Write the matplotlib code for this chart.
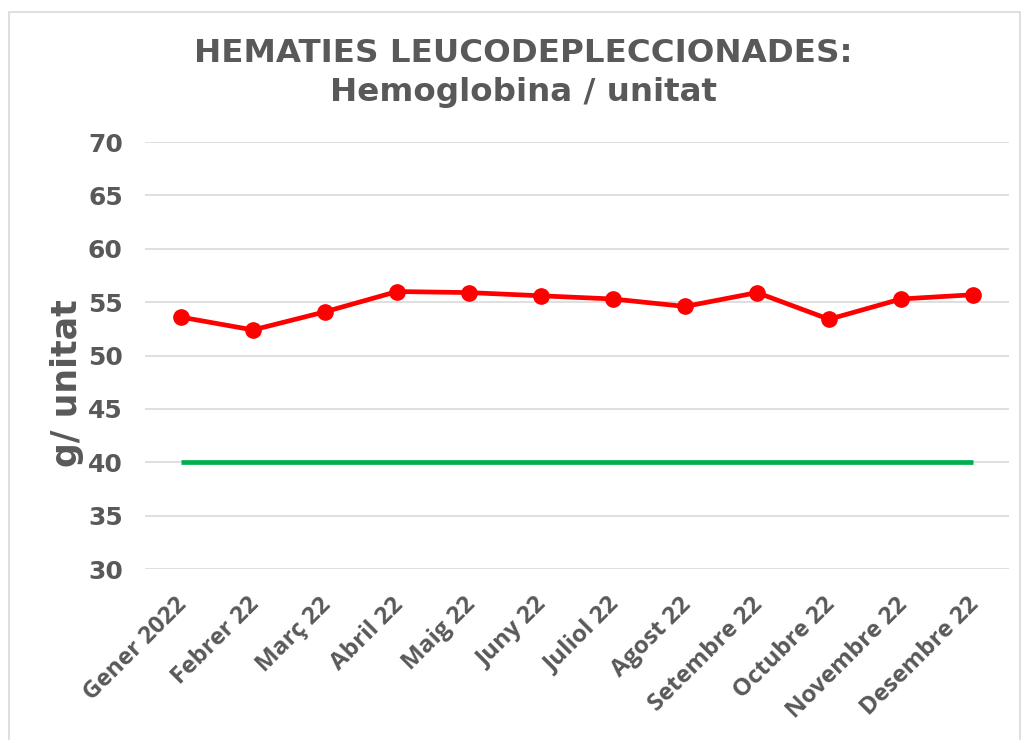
import matplotlib
matplotlib.use('Agg')
import matplotlib.pyplot as plt
import matplotlib.transforms as mtransforms
from matplotlib.patches import Rectangle

# --- Data ---
months = ['Gener 2022', 'Febrer 22', 'Març 22', 'Abril 22', 'Maig 22', 'Juny 22',
          'Juliol 22', 'Agost 22', 'Setembre 22', 'Octubre 22', 'Novembre 22',
          'Desembre 22']
hemoglobina = [53.6, 52.4, 54.1, 56.0, 55.9, 55.6, 55.3, 54.6, 55.9, 53.4, 55.3, 55.7]
limit = [40] * len(months)
y_ticks = [30, 35, 40, 45, 50, 55, 60, 65, 70]

GRAY = '#595959'
RED = '#FF0000'
GREEN = '#00B050'

fig = plt.figure(figsize=(10.25, 7.4), dpi=100)
ax = fig.add_axes([0.1415, 0.231, 0.8429, 0.577])

# chart border
fig.patches.append(Rectangle((9 / 1025, -0.01), 1011 / 1025, 1 - 12 / 740 + 0.01,
                             transform=fig.transFigure, fill=False,
                             edgecolor='#D9D9D9', linewidth=1.2))

x = list(range(len(months)))
ax.plot(x, limit, color=GREEN, linewidth=3.4, solid_capstyle='butt', zorder=3)
ax.plot(x, hemoglobina, color=RED, linewidth=3.4, marker='o', markersize=11,
        zorder=4)

ax.set_xlim(-0.5, len(months) - 0.5)
ax.set_ylim(30, 70)
ax.set_yticks(y_ticks)
ax.yaxis.grid(True, color='#D9D9D9', linewidth=1.2)
ax.set_axisbelow(True)
for s in ax.spines.values():
    s.set_visible(False)
ax.tick_params(length=0)
ax.tick_params(axis='y', pad=16)

for lab in ax.set_yticklabels([str(v) for v in y_ticks]):
    lab.set_fontsize(18)
    lab.set_fontweight('bold')
    lab.set_color(GRAY)

ax.set_xticks(x)
ax.set_xticklabels(months, rotation=45, ha='right', rotation_mode='anchor',
                   fontsize=17.5, fontweight='bold', color=GRAY, family='Open Sans')
ax.tick_params(axis='x', pad=17)
shift = mtransforms.ScaledTranslation(-6 / 100, 0, fig.dpi_scale_trans)
for lab in ax.get_xticklabels():
    lab.set_transform(lab.get_transform() + shift)

fig.text(67 / 1025, 1 - 383 / 740, 'g/ unitat', rotation=90, ha='center',
         va='center', fontsize=25, fontweight='bold', color=GRAY)

fig.text(523 / 1025, 1 - 73 / 740, 'HEMATIES LEUCODEPLECCIONADES:\nHemoglobina / unitat',
         ha='center', va='center', fontsize=23.4, fontweight='bold', color=GRAY,
         linespacing=1.3)

fig.savefig('out.png', dpi=100)
